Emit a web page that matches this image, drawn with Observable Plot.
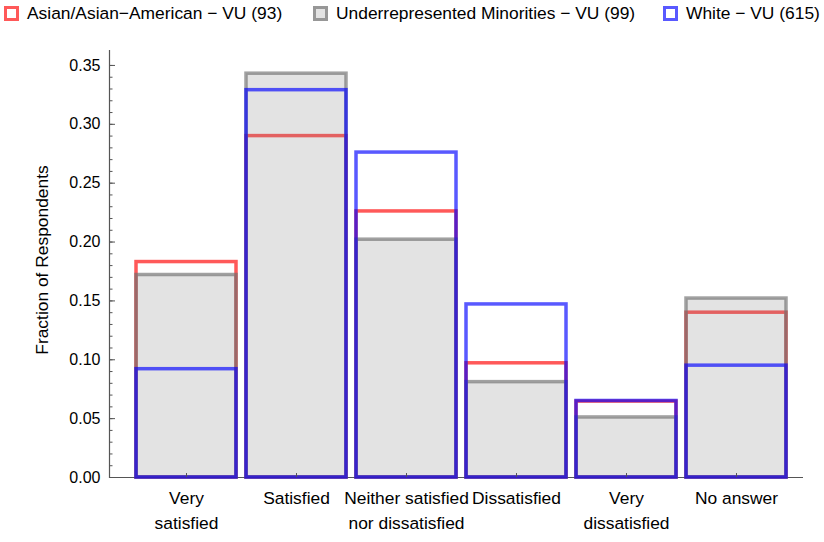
<!DOCTYPE html>
<html><head><meta charset="utf-8">
<script src="https://cdn.jsdelivr.net/npm/d3@7"></script>
<script src="https://cdn.jsdelivr.net/npm/@observablehq/plot@0.6"></script>
<style>
body{margin:0;background:#fff;font-family:"Liberation Sans",Arial,sans-serif;}
#wrap{position:relative;width:824px;height:542px;overflow:hidden}
.leg{position:absolute;top:0;height:27px;display:flex;align-items:center;font-size:17.4px;color:#000;white-space:nowrap}
.sw{width:9px;height:9px;border:3px solid;margin-right:8px;box-sizing:content-box}
#chart{position:absolute;top:30px;left:0}
</style></head><body>
<div id="wrap"><div id="legend"></div><div id="chart"></div></div>
<script>
const categories = ["Very satisfied", "Satisfied", "Neither satisfied nor dissatisfied", "Dissatisfied", "Very dissatisfied", "No answer"];
const tickLabels = ["Very\nsatisfied", "Satisfied", "Neither satisfied\nnor dissatisfied", "Dissatisfied", "Very\ndissatisfied", "No answer"];
const seriesNames = ["Asian/Asian\u2212American \u2212 VU (93)", "Underrepresented Minorities \u2212 VU (99)", "White \u2212 VU (615)"];
const yLabel = "Fraction of Respondents";
const asian = [0.183, 0.290, 0.226, 0.097, 0.0645, 0.140];
const urm   = [0.172, 0.343, 0.202, 0.081, 0.051, 0.152];
const white = [0.092, 0.329, 0.276, 0.147, 0.065, 0.095];
const yTicks = [0, 0.05, 0.10, 0.15, 0.20, 0.25, 0.30, 0.35];
const yMinorTicks = d3.range(0, 36).map(i => i / 100);

const styles = [
  {stroke: "rgb(255,0,0)", strokeOpacity: 0.65, fill: "none", fillOpacity: 0, legFill: "#fff"},
  {stroke: "rgb(110,110,110)", strokeOpacity: 0.65, fill: "rgb(128,128,128)", fillOpacity: 0.22, legFill: "rgba(128,128,128,0.22)"},
  {stroke: "rgb(0,0,255)", strokeOpacity: 0.65, fill: "none", fillOpacity: 0, legFill: "#fff"}
];
const allValues = [asian, urm, white];
const tables = allValues.map((vals, s) => categories.map((c, i) => ({cat: c, value: vals[i], series: seriesNames[s]})));

// legend
const legPos = [4, 313, 663];
const leg = document.getElementById("legend");
seriesNames.forEach((n, i) => {
  const d = document.createElement("div");
  d.className = "leg";
  d.style.left = legPos[i] + "px";
  const sw = document.createElement("span");
  sw.className = "sw";
  const st = styles[i];
  sw.style.borderColor = st.stroke.replace("rgb", "rgba").replace(")", "," + st.strokeOpacity + ")");
  sw.style.background = st.legFill;
  d.appendChild(sw);
  const t = document.createElement("span");
  t.textContent = n;
  d.appendChild(t);
  leg.appendChild(d);
});

const font = '"Liberation Sans", Arial, sans-serif';
const chart = Plot.plot({
  width: 824, height: 512,
  marginLeft: 109, marginRight: 21, marginTop: 20, marginBottom: 65,
  style: {fontFamily: font, fontSize: "16px", background: "white", color: "black"},
  x: {domain: categories, paddingInner: 0.095, paddingOuter: 0.1875, align: 0.61, label: null},
  y: {domain: [0, 0.3627], label: null},
  marks: [
    Plot.ruleY([0], {stroke: "#555", strokeWidth: 1.2}),
    Plot.frame({anchor: "left", stroke: "#555", strokeWidth: 1.2}),
    ...tables.map((t, s) => Plot.barY(t, {
      x: "cat", y: "value",
      fill: styles[s].fill, fillOpacity: styles[s].fillOpacity,
      stroke: styles[s].stroke, strokeOpacity: styles[s].strokeOpacity, strokeWidth: 3.5
    })),
    Plot.axisY({ticks: yMinorTicks, tickSize: -3.5, tickFormat: () => "", label: null, stroke: "#555"}),
    Plot.axisY({ticks: yTicks, tickSize: -6, tickPadding: 15, tickFormat: d3.format(".2f"), stroke: "#555", label: null}),
    Plot.text([yLabel], {text: d => d, frameAnchor: "left", textAnchor: "middle", rotate: -90, dx: -67, dy: -4, fontSize: 17.4, fill: "black"}),
    Plot.axisX({tickSize: -4, tickPadding: 13, stroke: "#555", lineHeight: 1.44, fontSize: 17.4,
      tickFormat: d => tickLabels[categories.indexOf(d)], label: null})
  ]
});
document.getElementById("chart").appendChild(chart);
</script>
</body></html>
